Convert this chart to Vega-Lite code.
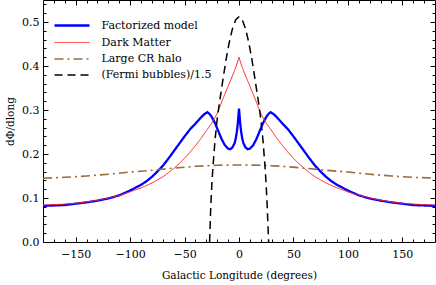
{
  "$schema": "https://vega.github.io/schema/vega-lite/v6.json",
  "autosize": {"type": "none"},
  "padding": {"left": 43, "top": 0, "right": 1, "bottom": 43},
  "width": 392,
  "height": 242,
  "config": {
    "view": {"stroke": "black", "strokeWidth": 1},
    "font": "DejaVu Serif",
    "legend": {"labelFont": "DejaVu Serif"},
    "axis": {
      "tickColor": "black", "tickWidth": 1, "labelColor": "black", "titleColor": "black",
      "titleFont": "DejaVu Serif", "labelFont": "DejaVu Serif",
      "labelFontSize": 11, "titleFontSize": 10.5, "titleFontWeight": "normal",
      "domain": false, "grid": false, "labelFlush": false
    }
  },
  "datasets": {
    "curves": [
      {"series": "Factorized model", "lon": -180, "val": 0.082},
      {"series": "Factorized model", "lon": -170, "val": 0.083},
      {"series": "Factorized model", "lon": -160, "val": 0.084},
      {"series": "Factorized model", "lon": -150, "val": 0.087},
      {"series": "Factorized model", "lon": -140, "val": 0.090},
      {"series": "Factorized model", "lon": -130, "val": 0.094},
      {"series": "Factorized model", "lon": -120, "val": 0.099},
      {"series": "Factorized model", "lon": -110, "val": 0.106},
      {"series": "Factorized model", "lon": -100, "val": 0.117},
      {"series": "Factorized model", "lon": -90, "val": 0.130},
      {"series": "Factorized model", "lon": -85, "val": 0.138},
      {"series": "Factorized model", "lon": -80, "val": 0.148},
      {"series": "Factorized model", "lon": -75, "val": 0.160},
      {"series": "Factorized model", "lon": -70, "val": 0.173},
      {"series": "Factorized model", "lon": -65, "val": 0.189},
      {"series": "Factorized model", "lon": -60, "val": 0.206},
      {"series": "Factorized model", "lon": -55, "val": 0.223},
      {"series": "Factorized model", "lon": -50, "val": 0.240},
      {"series": "Factorized model", "lon": -45, "val": 0.256},
      {"series": "Factorized model", "lon": -40, "val": 0.269},
      {"series": "Factorized model", "lon": -36, "val": 0.280},
      {"series": "Factorized model", "lon": -33, "val": 0.288},
      {"series": "Factorized model", "lon": -31, "val": 0.292},
      {"series": "Factorized model", "lon": -29, "val": 0.295},
      {"series": "Factorized model", "lon": -27, "val": 0.291},
      {"series": "Factorized model", "lon": -25, "val": 0.284},
      {"series": "Factorized model", "lon": -22, "val": 0.270},
      {"series": "Factorized model", "lon": -19, "val": 0.252},
      {"series": "Factorized model", "lon": -16, "val": 0.234},
      {"series": "Factorized model", "lon": -13, "val": 0.220},
      {"series": "Factorized model", "lon": -10, "val": 0.212},
      {"series": "Factorized model", "lon": -8, "val": 0.211},
      {"series": "Factorized model", "lon": -6, "val": 0.215},
      {"series": "Factorized model", "lon": -4, "val": 0.225},
      {"series": "Factorized model", "lon": -3, "val": 0.235},
      {"series": "Factorized model", "lon": -2, "val": 0.250},
      {"series": "Factorized model", "lon": -1, "val": 0.272},
      {"series": "Factorized model", "lon": 0, "val": 0.303},
      {"series": "Factorized model", "lon": 1, "val": 0.272},
      {"series": "Factorized model", "lon": 2, "val": 0.250},
      {"series": "Factorized model", "lon": 3, "val": 0.235},
      {"series": "Factorized model", "lon": 4, "val": 0.225},
      {"series": "Factorized model", "lon": 6, "val": 0.215},
      {"series": "Factorized model", "lon": 8, "val": 0.211},
      {"series": "Factorized model", "lon": 10, "val": 0.212},
      {"series": "Factorized model", "lon": 13, "val": 0.220},
      {"series": "Factorized model", "lon": 16, "val": 0.234},
      {"series": "Factorized model", "lon": 19, "val": 0.252},
      {"series": "Factorized model", "lon": 22, "val": 0.270},
      {"series": "Factorized model", "lon": 25, "val": 0.284},
      {"series": "Factorized model", "lon": 27, "val": 0.291},
      {"series": "Factorized model", "lon": 29, "val": 0.295},
      {"series": "Factorized model", "lon": 31, "val": 0.292},
      {"series": "Factorized model", "lon": 33, "val": 0.288},
      {"series": "Factorized model", "lon": 36, "val": 0.280},
      {"series": "Factorized model", "lon": 40, "val": 0.269},
      {"series": "Factorized model", "lon": 45, "val": 0.256},
      {"series": "Factorized model", "lon": 50, "val": 0.240},
      {"series": "Factorized model", "lon": 55, "val": 0.223},
      {"series": "Factorized model", "lon": 60, "val": 0.206},
      {"series": "Factorized model", "lon": 65, "val": 0.189},
      {"series": "Factorized model", "lon": 70, "val": 0.173},
      {"series": "Factorized model", "lon": 75, "val": 0.160},
      {"series": "Factorized model", "lon": 80, "val": 0.148},
      {"series": "Factorized model", "lon": 85, "val": 0.138},
      {"series": "Factorized model", "lon": 90, "val": 0.130},
      {"series": "Factorized model", "lon": 100, "val": 0.117},
      {"series": "Factorized model", "lon": 110, "val": 0.106},
      {"series": "Factorized model", "lon": 120, "val": 0.099},
      {"series": "Factorized model", "lon": 130, "val": 0.094},
      {"series": "Factorized model", "lon": 140, "val": 0.090},
      {"series": "Factorized model", "lon": 150, "val": 0.087},
      {"series": "Factorized model", "lon": 160, "val": 0.084},
      {"series": "Factorized model", "lon": 170, "val": 0.083},
      {"series": "Factorized model", "lon": 180, "val": 0.082},

      {"series": "Dark Matter", "lon": -180, "val": 0.084},
      {"series": "Dark Matter", "lon": -170, "val": 0.085},
      {"series": "Dark Matter", "lon": -160, "val": 0.086},
      {"series": "Dark Matter", "lon": -150, "val": 0.088},
      {"series": "Dark Matter", "lon": -140, "val": 0.091},
      {"series": "Dark Matter", "lon": -130, "val": 0.095},
      {"series": "Dark Matter", "lon": -120, "val": 0.100},
      {"series": "Dark Matter", "lon": -110, "val": 0.106},
      {"series": "Dark Matter", "lon": -100, "val": 0.114},
      {"series": "Dark Matter", "lon": -90, "val": 0.123},
      {"series": "Dark Matter", "lon": -80, "val": 0.134},
      {"series": "Dark Matter", "lon": -75, "val": 0.141},
      {"series": "Dark Matter", "lon": -70, "val": 0.148},
      {"series": "Dark Matter", "lon": -65, "val": 0.157},
      {"series": "Dark Matter", "lon": -60, "val": 0.167},
      {"series": "Dark Matter", "lon": -55, "val": 0.178},
      {"series": "Dark Matter", "lon": -50, "val": 0.190},
      {"series": "Dark Matter", "lon": -45, "val": 0.204},
      {"series": "Dark Matter", "lon": -40, "val": 0.219},
      {"series": "Dark Matter", "lon": -35, "val": 0.235},
      {"series": "Dark Matter", "lon": -30, "val": 0.253},
      {"series": "Dark Matter", "lon": -25, "val": 0.270},
      {"series": "Dark Matter", "lon": -20, "val": 0.292},
      {"series": "Dark Matter", "lon": -15, "val": 0.324},
      {"series": "Dark Matter", "lon": -10, "val": 0.354},
      {"series": "Dark Matter", "lon": -5, "val": 0.384},
      {"series": "Dark Matter", "lon": -2.5, "val": 0.400},
      {"series": "Dark Matter", "lon": 0, "val": 0.420},
      {"series": "Dark Matter", "lon": 2.5, "val": 0.400},
      {"series": "Dark Matter", "lon": 5, "val": 0.384},
      {"series": "Dark Matter", "lon": 10, "val": 0.354},
      {"series": "Dark Matter", "lon": 15, "val": 0.324},
      {"series": "Dark Matter", "lon": 20, "val": 0.292},
      {"series": "Dark Matter", "lon": 25, "val": 0.270},
      {"series": "Dark Matter", "lon": 30, "val": 0.253},
      {"series": "Dark Matter", "lon": 35, "val": 0.235},
      {"series": "Dark Matter", "lon": 40, "val": 0.219},
      {"series": "Dark Matter", "lon": 45, "val": 0.204},
      {"series": "Dark Matter", "lon": 50, "val": 0.190},
      {"series": "Dark Matter", "lon": 55, "val": 0.178},
      {"series": "Dark Matter", "lon": 60, "val": 0.167},
      {"series": "Dark Matter", "lon": 65, "val": 0.157},
      {"series": "Dark Matter", "lon": 70, "val": 0.148},
      {"series": "Dark Matter", "lon": 75, "val": 0.141},
      {"series": "Dark Matter", "lon": 80, "val": 0.134},
      {"series": "Dark Matter", "lon": 90, "val": 0.123},
      {"series": "Dark Matter", "lon": 100, "val": 0.114},
      {"series": "Dark Matter", "lon": 110, "val": 0.106},
      {"series": "Dark Matter", "lon": 120, "val": 0.100},
      {"series": "Dark Matter", "lon": 130, "val": 0.095},
      {"series": "Dark Matter", "lon": 140, "val": 0.091},
      {"series": "Dark Matter", "lon": 150, "val": 0.088},
      {"series": "Dark Matter", "lon": 160, "val": 0.086},
      {"series": "Dark Matter", "lon": 170, "val": 0.085},
      {"series": "Dark Matter", "lon": 180, "val": 0.084},

      {"series": "Large CR halo", "lon": -180, "val": 0.145},
      {"series": "Large CR halo", "lon": -160, "val": 0.147},
      {"series": "Large CR halo", "lon": -140, "val": 0.150},
      {"series": "Large CR halo", "lon": -120, "val": 0.154},
      {"series": "Large CR halo", "lon": -100, "val": 0.159},
      {"series": "Large CR halo", "lon": -80, "val": 0.163},
      {"series": "Large CR halo", "lon": -60, "val": 0.168},
      {"series": "Large CR halo", "lon": -40, "val": 0.172},
      {"series": "Large CR halo", "lon": -20, "val": 0.1745},
      {"series": "Large CR halo", "lon": 0, "val": 0.175},
      {"series": "Large CR halo", "lon": 20, "val": 0.1745},
      {"series": "Large CR halo", "lon": 40, "val": 0.172},
      {"series": "Large CR halo", "lon": 60, "val": 0.168},
      {"series": "Large CR halo", "lon": 80, "val": 0.163},
      {"series": "Large CR halo", "lon": 100, "val": 0.159},
      {"series": "Large CR halo", "lon": 120, "val": 0.154},
      {"series": "Large CR halo", "lon": 140, "val": 0.150},
      {"series": "Large CR halo", "lon": 160, "val": 0.147},
      {"series": "Large CR halo", "lon": 180, "val": 0.145},

      {"series": "(Fermi bubbles)/1.5", "lon": -27, "val": 0.0},
      {"series": "(Fermi bubbles)/1.5", "lon": -26, "val": 0.075},
      {"series": "(Fermi bubbles)/1.5", "lon": -25, "val": 0.128},
      {"series": "(Fermi bubbles)/1.5", "lon": -24, "val": 0.168},
      {"series": "(Fermi bubbles)/1.5", "lon": -22, "val": 0.232},
      {"series": "(Fermi bubbles)/1.5", "lon": -20, "val": 0.280},
      {"series": "(Fermi bubbles)/1.5", "lon": -18, "val": 0.316},
      {"series": "(Fermi bubbles)/1.5", "lon": -15, "val": 0.365},
      {"series": "(Fermi bubbles)/1.5", "lon": -12, "val": 0.413},
      {"series": "(Fermi bubbles)/1.5", "lon": -9, "val": 0.453},
      {"series": "(Fermi bubbles)/1.5", "lon": -6, "val": 0.485},
      {"series": "(Fermi bubbles)/1.5", "lon": -3, "val": 0.505},
      {"series": "(Fermi bubbles)/1.5", "lon": 0, "val": 0.512},
      {"series": "(Fermi bubbles)/1.5", "lon": 3, "val": 0.505},
      {"series": "(Fermi bubbles)/1.5", "lon": 6, "val": 0.485},
      {"series": "(Fermi bubbles)/1.5", "lon": 9, "val": 0.453},
      {"series": "(Fermi bubbles)/1.5", "lon": 12, "val": 0.413},
      {"series": "(Fermi bubbles)/1.5", "lon": 15, "val": 0.365},
      {"series": "(Fermi bubbles)/1.5", "lon": 18, "val": 0.316},
      {"series": "(Fermi bubbles)/1.5", "lon": 20, "val": 0.280},
      {"series": "(Fermi bubbles)/1.5", "lon": 22, "val": 0.232},
      {"series": "(Fermi bubbles)/1.5", "lon": 24, "val": 0.168},
      {"series": "(Fermi bubbles)/1.5", "lon": 25, "val": 0.128},
      {"series": "(Fermi bubbles)/1.5", "lon": 26, "val": 0.075},
      {"series": "(Fermi bubbles)/1.5", "lon": 27.2, "val": 0.0}
    ]
  },
  "data": {"name": "curves"},
  "layer": [
    {
      "mark": {"type": "line", "clip": true},
      "encoding": {
        "x": {"field": "lon", "type": "quantitative",
          "scale": {"domain": [-180, 180], "nice": false, "zero": false},
          "axis": {"orient": "bottom", "values": [-150, -100, -50, 0, 50, 100, 150], "format": "d",
            "tickSize": -5, "labelPadding": 11, "title": "Galactic Longitude  (degrees)", "titlePadding": 11}},
        "y": {"field": "val", "type": "quantitative",
          "scale": {"domain": [0, 0.55], "nice": false, "zero": false},
          "axis": {"orient": "left", "values": [0, 0.1, 0.2, 0.3, 0.4, 0.5], "format": ".1f",
            "tickSize": -5, "labelPadding": 9, "title": "dΦ/dlong", "titlePadding": 6}},
        "color": {"field": "series", "type": "nominal",
          "scale": {"domain": ["Factorized model", "Dark Matter", "Large CR halo", "(Fermi bubbles)/1.5"],
            "range": ["#0000ff", "#ff2020", "#9a6b3e", "#000000"]},
          "legend": {"title": null, "orient": "none", "legendX": 22.5, "legendY": 19,
            "symbolType": "M-3.5,0H3.5", "symbolSize": 100,
            "labelFontSize": 11, "labelColor": "black", "labelOffset": 23, "rowPadding": 5, "padding": 0}},
        "strokeDash": {"field": "series", "type": "nominal",
          "scale": {"domain": ["Factorized model", "Dark Matter", "Large CR halo", "(Fermi bubbles)/1.5"],
            "range": [[1, 0], [1, 0], [9, 4, 2, 4], [8, 5]]}},
        "strokeWidth": {"field": "series", "type": "nominal",
          "scale": {"type": "ordinal", "domain": ["Factorized model", "Dark Matter", "Large CR halo", "(Fermi bubbles)/1.5"],
            "range": [2.3, 1, 1.6, 1.5]}}
      }
    },
    {
      "mark": {"type": "point", "opacity": 0},
      "encoding": {
        "x": {"field": "lon", "type": "quantitative",
          "axis": {"orient": "bottom", "values": [-170, -160, -140, -130, -120, -110, -90, -80, -70, -60, -40, -30, -20, -10, 10, 20, 30, 40, 60, 70, 80, 90, 110, 120, 130, 140, 160, 170],
            "tickSize": -3, "labels": false, "title": null}},
        "y": {"field": "val", "type": "quantitative",
          "axis": {"orient": "left", "values": [0.02, 0.04, 0.06, 0.08, 0.12, 0.14, 0.16, 0.18, 0.22, 0.24, 0.26, 0.28, 0.32, 0.34, 0.36, 0.38, 0.42, 0.44, 0.46, 0.48, 0.52, 0.54],
            "tickSize": -3, "labels": false, "title": null}}
      }
    },
    {
      "mark": {"type": "point", "opacity": 0},
      "encoding": {
        "x": {"field": "lon", "type": "quantitative",
          "axis": {"orient": "top", "values": [-150, -100, -50, 0, 50, 100, 150], "tickSize": -5, "labels": false, "title": null}},
        "y": {"field": "val", "type": "quantitative",
          "axis": {"orient": "right", "values": [0.1, 0.2, 0.3, 0.4, 0.5], "tickSize": -5, "labels": false, "title": null}}
      }
    },
    {
      "mark": {"type": "point", "opacity": 0},
      "encoding": {
        "x": {"field": "lon", "type": "quantitative",
          "axis": {"orient": "top", "values": [-170, -160, -140, -130, -120, -110, -90, -80, -70, -60, -40, -30, -20, -10, 10, 20, 30, 40, 60, 70, 80, 90, 110, 120, 130, 140, 160, 170],
            "tickSize": -3, "labels": false, "title": null}},
        "y": {"field": "val", "type": "quantitative",
          "axis": {"orient": "right", "values": [0.02, 0.04, 0.06, 0.08, 0.12, 0.14, 0.16, 0.18, 0.22, 0.24, 0.26, 0.28, 0.32, 0.34, 0.36, 0.38, 0.42, 0.44, 0.46, 0.48, 0.52, 0.54],
            "tickSize": -3, "labels": false, "title": null}}
      }
    }
  ],
  "resolve": {"axis": {"x": "independent", "y": "independent"}}
}
